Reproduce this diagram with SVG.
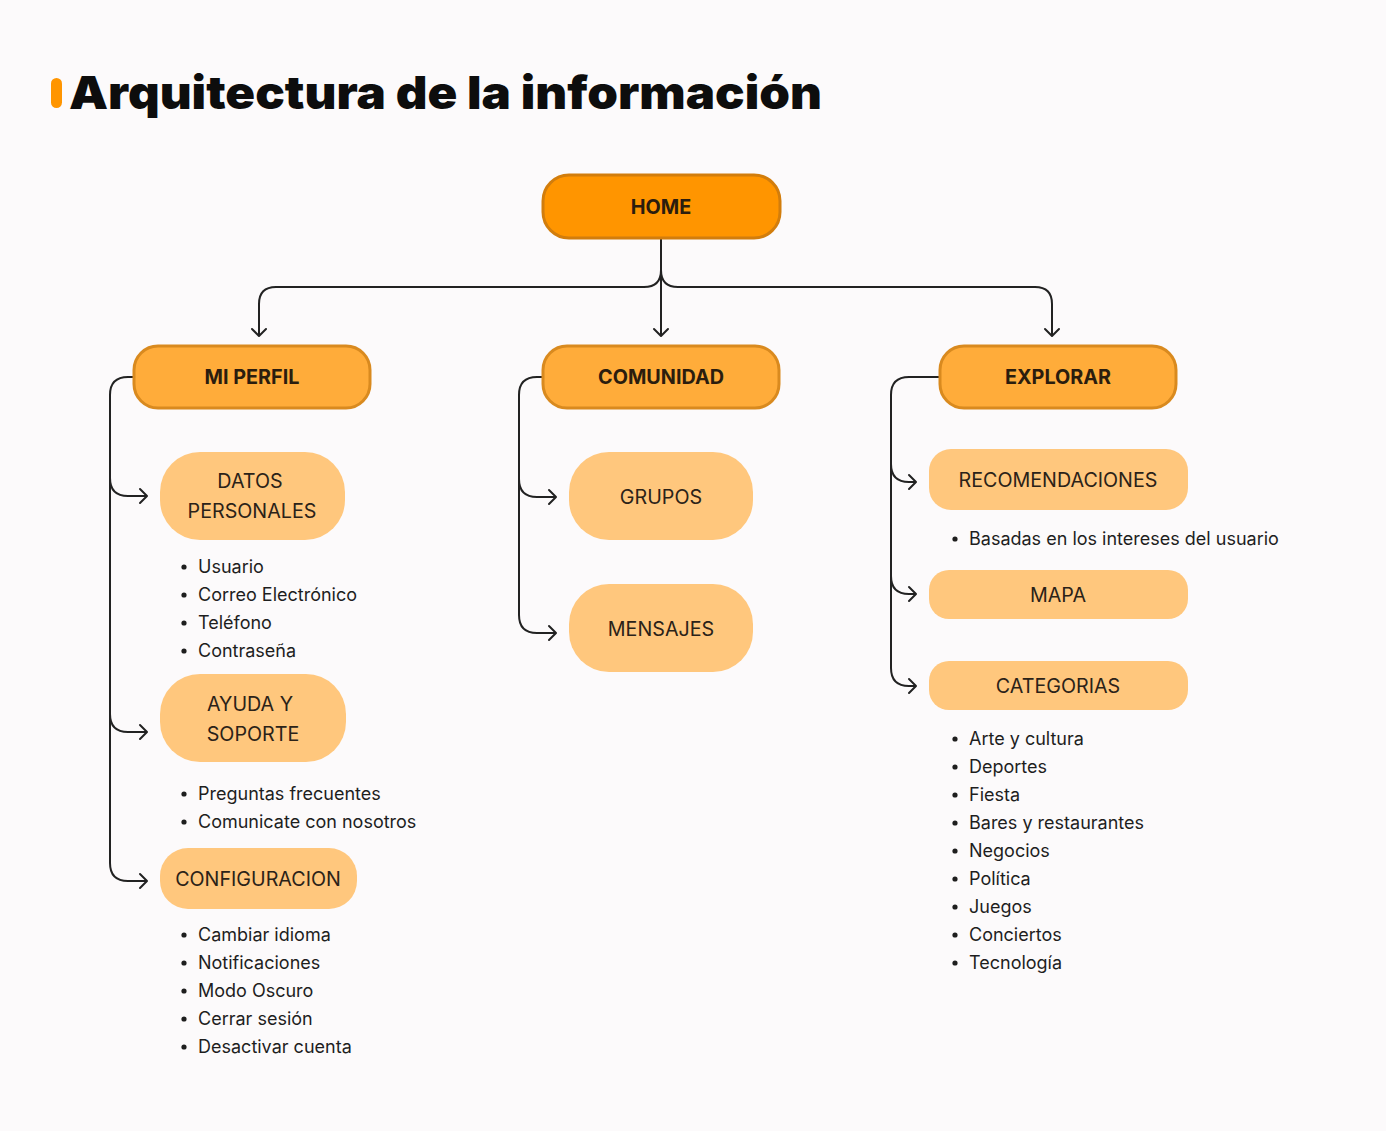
<svg xmlns="http://www.w3.org/2000/svg" width="1386" height="1131" viewBox="0 0 1386 1131">
<defs>
<style>
.bg{fill:#FCFAFB}
.home{fill:#FF9500;stroke:#D27D0C;stroke-width:3}
.l1{fill:#FFAC3A;stroke:#D98A1F;stroke-width:3}
.l2{fill:#FFC77D}
.tb{font-family:Inter,"Noto Sans",sans-serif;font-size:19.8px;font-weight:700;fill:#2B1D0E;text-anchor:middle}
.tn{font-family:Inter,"Noto Sans",sans-serif;font-size:19.7px;font-weight:400;fill:#2B2218;text-anchor:middle}
.li{font-family:Inter,"Noto Sans",sans-serif;font-size:18px;font-weight:400;fill:#1E1E1E}
.dot{fill:#1E1E1E}
.c{fill:none;stroke:#222;stroke-width:2}
</style>
<marker id="ar" viewBox="-10 -10 20 20" markerWidth="20" markerHeight="20" refX="0" refY="0" orient="auto" markerUnits="userSpaceOnUse">
<path d="M-7,-7 L0,0 L-7,7" fill="none" stroke="#222" stroke-width="2" stroke-linecap="round" stroke-linejoin="round"/>
</marker>
</defs>
<rect class="bg" x="0" y="0" width="1386" height="1131"/>
<g id="title">
<rect x="51" y="78" width="11" height="30" rx="5.5" fill="#FF9500"/>
<text x="69" y="109" font-family="Inter,'Noto Sans',sans-serif" font-size="46" font-weight="900" fill="#0D0D0D" textLength="753" lengthAdjust="spacingAndGlyphs">Arquitectura de la información</text>
</g>
<g id="connectors">
<path class="c" d="M661,238 V336" marker-end="url(#ar)"/>
<path class="c" d="M661,270 Q661,287 644,287 H276 Q259,287 259,304 V336" marker-end="url(#ar)"/>
<path class="c" d="M661,270 Q661,287 678,287 H1035 Q1052,287 1052,304 V336" marker-end="url(#ar)"/>
<path class="c" d="M134,377 H128 Q110,377 110,395 V478 Q110,496 128,496 H147" marker-end="url(#ar)"/>
<path class="c" d="M110,470 V714 Q110,732 128,732 H147" marker-end="url(#ar)"/>
<path class="c" d="M110,700 V863 Q110,881 128,881 H147" marker-end="url(#ar)"/>
<path class="c" d="M543,377 H537 Q519,377 519,395 V479 Q519,497 537,497 H556" marker-end="url(#ar)"/>
<path class="c" d="M519,470 V615 Q519,633 537,633 H556" marker-end="url(#ar)"/>
<path class="c" d="M940,377 H909 Q891,377 891,395 V464 Q891,482 909,482 H916" marker-end="url(#ar)"/>
<path class="c" d="M891,460 V576 Q891,594 909,594 H916" marker-end="url(#ar)"/>
<path class="c" d="M891,570 V668 Q891,686 909,686 H916" marker-end="url(#ar)"/>
</g>
<g id="home">
<rect class="home" x="543" y="175" width="237" height="63" rx="26"/>
<text class="tb" x="661" y="214">HOME</text>
</g>
<g id="mi-perfil">
<rect class="l1" x="134" y="346" width="236" height="62" rx="24"/>
<text class="tb" x="252" y="384">MI PERFIL</text>
</g>
<g id="comunidad">
<rect class="l1" x="543" y="346" width="236" height="62" rx="24"/>
<text class="tb" x="661" y="384">COMUNIDAD</text>
</g>
<g id="explorar">
<rect class="l1" x="940" y="346" width="236" height="62" rx="24"/>
<text class="tb" x="1058" y="384">EXPLORAR</text>
</g>
<g id="datos-personales">
<rect class="l2" x="160" y="452" width="185" height="88" rx="40"/>
<text class="tn" x="250" y="488">DATOS</text>
<text class="tn" x="252" y="518">PERSONALES</text>
<g class="li">
<circle class="dot" cx="184" cy="567" r="2.6"/><text x="198" y="573">Usuario</text>
<circle class="dot" cx="184" cy="595" r="2.6"/><text x="198" y="601">Correo Electrónico</text>
<circle class="dot" cx="184" cy="623" r="2.6"/><text x="198" y="629">Teléfono</text>
<circle class="dot" cx="184" cy="651" r="2.6"/><text x="198" y="657">Contraseña</text>
</g>
</g>
<g id="ayuda-soporte">
<rect class="l2" x="160" y="674" width="186" height="88" rx="40"/>
<text class="tn" x="250" y="711">AYUDA Y</text>
<text class="tn" x="253" y="741">SOPORTE</text>
<g class="li">
<circle class="dot" cx="184" cy="794" r="2.6"/><text x="198" y="800">Preguntas frecuentes</text>
<circle class="dot" cx="184" cy="822" r="2.6"/><text x="198" y="828">Comunicate con nosotros</text>
</g>
</g>
<g id="configuracion">
<rect class="l2" x="160" y="848" width="197" height="61" rx="28"/>
<text class="tn" x="258" y="886">CONFIGURACION</text>
<g class="li">
<circle class="dot" cx="184" cy="935" r="2.6"/><text x="198" y="941">Cambiar idioma</text>
<circle class="dot" cx="184" cy="963" r="2.6"/><text x="198" y="969">Notificaciones</text>
<circle class="dot" cx="184" cy="991" r="2.6"/><text x="198" y="997">Modo Oscuro</text>
<circle class="dot" cx="184" cy="1019" r="2.6"/><text x="198" y="1025">Cerrar sesión</text>
<circle class="dot" cx="184" cy="1047" r="2.6"/><text x="198" y="1053">Desactivar cuenta</text>
</g>
</g>
<g id="grupos">
<rect class="l2" x="569" y="452" width="184" height="88" rx="40"/>
<text class="tn" x="661" y="504">GRUPOS</text>
</g>
<g id="mensajes">
<rect class="l2" x="569" y="584" width="184" height="88" rx="40"/>
<text class="tn" x="661" y="636">MENSAJES</text>
</g>
<g id="recomendaciones">
<rect class="l2" x="929" y="449" width="259" height="61" rx="22"/>
<text class="tn" x="1058" y="487">RECOMENDACIONES</text>
<g class="li">
<circle class="dot" cx="955" cy="539" r="2.6"/><text x="969" y="545">Basadas en los intereses del usuario</text>
</g>
</g>
<g id="mapa">
<rect class="l2" x="929" y="570" width="259" height="49" rx="20"/>
<text class="tn" x="1058" y="602">MAPA</text>
</g>
<g id="categorias">
<rect class="l2" x="929" y="661" width="259" height="49" rx="20"/>
<text class="tn" x="1058" y="693">CATEGORIAS</text>
<g class="li">
<circle class="dot" cx="955" cy="739" r="2.6"/><text x="969" y="745">Arte y cultura</text>
<circle class="dot" cx="955" cy="767" r="2.6"/><text x="969" y="773">Deportes</text>
<circle class="dot" cx="955" cy="795" r="2.6"/><text x="969" y="801">Fiesta</text>
<circle class="dot" cx="955" cy="823" r="2.6"/><text x="969" y="829">Bares y restaurantes</text>
<circle class="dot" cx="955" cy="851" r="2.6"/><text x="969" y="857">Negocios</text>
<circle class="dot" cx="955" cy="879" r="2.6"/><text x="969" y="885">Política</text>
<circle class="dot" cx="955" cy="907" r="2.6"/><text x="969" y="913">Juegos</text>
<circle class="dot" cx="955" cy="935" r="2.6"/><text x="969" y="941">Conciertos</text>
<circle class="dot" cx="955" cy="963" r="2.6"/><text x="969" y="969">Tecnología</text>
</g>
</g>
</svg>
